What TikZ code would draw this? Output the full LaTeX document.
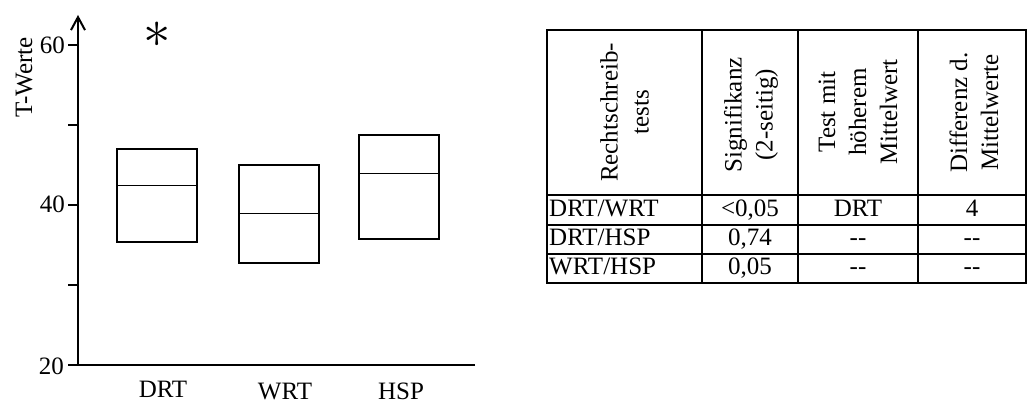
\documentclass[tikz,border=0pt]{standalone}
\usepackage{fontspec}
\setmainfont{Liberation Serif}
\usetikzlibrary{arrows.meta}
\begin{document}
\begin{tikzpicture}[x=1pt,y=-1pt,
  every node/.style={inner sep=0pt, font=\fontsize{25}{31}\selectfont},
  axisline/.style={line width=2pt},
  boxstyle/.style={draw, line width=1.8pt, minimum width=80pt, inner sep=0pt},
  medline/.style={line width=1.3pt},
  tabouter/.style={line width=2pt},
  tabinner/.style={line width=1.6pt},
  hdr/.style={rotate=90, align=center},
  cell/.style={anchor=base}]
\useasboundingbox (0,0) rectangle (1028,403);

% axes
\coordinate (O) at (78,365);
\coordinate (Ytop) at (78,15);
\coordinate (Xend) at (475,365);
\draw[axisline, -{Straight Barb[length=13pt,width=14pt]}] (Xend) -| (Ytop);
\foreach \t in {45,125,205,285,365}{
  \draw[axisline] (68,\t) -- (78,\t);
}
\node[anchor=base east] (l60) at (65,54) {60};
\node[anchor=base east] (l40) at (65,213) {40};
\node[anchor=base east] (l20) at (64,374) {20};
\node[rotate=90, anchor=base west] (ylab) at (32,118) {T-Werte};

% boxes
\node[boxstyle, minimum height=92.4pt] (drt) at (157,195.5) {};
\node[boxstyle, minimum height=98.3pt] (wrt) at (279,214.15) {};
\node[boxstyle, minimum height=104pt] (hsp) at (399,187) {};
\draw[medline] (drt.west |- 0,185.3) -- (drt.east |- 0,185.3);
\draw[medline] (wrt.west |- 0,213.3) -- (wrt.east |- 0,213.3);
\draw[medline] (hsp.west |- 0,173.3) -- (hsp.east |- 0,173.3);

\node[cell] (ldrt) at (163,397) {DRT};
\node[cell] (lwrt) at (285,399) {WRT};
\node[cell] (lhsp) at (401,399) {HSP};

\node[scale=2.2] (star) at (157.5,35) {$\ast$};

% table
\draw[tabinner] (547,195) -- (1026,195);
\draw[tabinner] (547,225) -- (1026,225);
\draw[tabinner] (547,254) -- (1026,254);
\draw[tabinner] (702,30) -- (702,283);
\draw[tabinner] (798,30) -- (798,283);
\draw[tabinner] (918,30) -- (918,283);
\draw[tabouter] (547,30) rectangle (1026,283);

\node[hdr] (h1) at (624.5,112.5) {Rechtschreib-\\tests};
\node[hdr] (h2) at (751,115) {Signifikanz\\(2-seitig)};
\node[hdr] (h3) at (858,112) {Test mit\\höherem\\Mittelwert};
\node[hdr] (h4) at (974,112.5) {Differenz d.\\Mittelwerte};

\node[anchor=base west] (r1) at (549,217) {DRT/WRT};
\node[anchor=base west] (r2) at (549,246) {DRT/HSP};
\node[anchor=base west] (r3) at (549,275) {WRT/HSP};
\node[cell] (s1) at (750,217) {<0,05};
\node[cell] (s2) at (750,246) {0,74};
\node[cell] (s3) at (750,275) {0,05};
\node[cell] (t1) at (858,217) {DRT};
\node[cell] (t2) at (858,246) {{-}{-}};
\node[cell] (t3) at (858,275) {{-}{-}};
\node[cell] (d1) at (972,217) {4};
\node[cell] (d2) at (972,246) {{-}{-}};
\node[cell] (d3) at (972,275) {{-}{-}};
\end{tikzpicture}
\end{document}
